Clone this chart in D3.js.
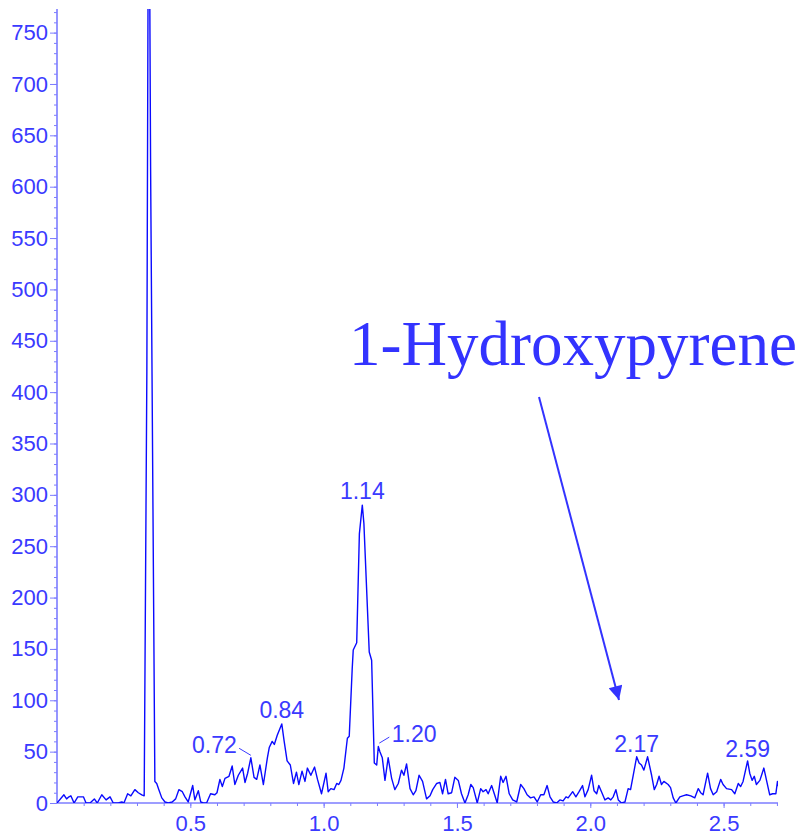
<!DOCTYPE html>
<html>
<head>
<meta charset="utf-8">
<script src="https://cdn.jsdelivr.net/npm/d3@7"></script>
<style>
  body { margin: 0; background: #fff; }
  svg { display: block; }
  .axis text { font-family: "Liberation Sans", Arial, sans-serif; font-size: 22px; fill: #3a3aff; }
  .axis line, .axis path { stroke: #7c7cff; }
</style>
</head>
<body>
<svg width="807" height="835"></svg>
<script>
var times = [0.000,0.026,0.036,0.045,0.052,0.064,0.078,0.099,0.109,0.124,0.140,0.151,0.168,0.184,0.199,0.211,0.230,0.243,0.251,0.265,
  0.277,0.292,0.305,0.318,0.327,0.337,0.344,0.351,0.367,0.374,0.382,0.393,0.405,0.417,0.432,0.445,0.457,0.470,0.480,0.492,
  0.509,0.517,0.530,0.539,0.549,0.561,0.576,0.592,0.600,0.611,0.620,0.630,0.645,0.657,0.667,0.680,0.696,0.705,0.715,0.727,
  0.739,0.749,0.761,0.774,0.789,0.796,0.807,0.815,0.826,0.843,0.852,0.863,0.875,0.887,0.898,0.907,0.919,0.930,0.939,0.952,
  0.966,0.977,0.992,1.009,1.017,1.027,1.039,1.049,1.057,1.065,1.076,1.089,1.096,1.107,1.111,1.124,1.134,1.145,1.151,1.171,
  1.180,1.190,1.199,1.205,1.211,1.220,1.230,1.242,1.255,1.267,1.280,1.292,1.301,1.311,1.324,1.336,1.346,1.358,1.371,1.386,
  1.399,1.409,1.424,1.436,1.446,1.457,1.467,1.480,1.492,1.505,1.517,1.530,1.542,1.552,1.561,1.576,1.589,1.598,1.609,1.617,
  1.630,1.640,1.651,1.664,1.673,1.684,1.696,1.709,1.724,1.739,1.751,1.763,1.776,1.789,1.801,1.814,1.826,1.838,1.849,1.861,
  1.874,1.886,1.898,1.909,1.917,1.934,1.946,1.958,1.971,1.980,1.992,2.005,2.014,2.024,2.032,2.042,2.055,2.067,2.077,2.086,
  2.096,2.105,2.117,2.130,2.142,2.151,2.161,2.174,2.183,2.192,2.201,2.215,2.230,2.240,2.249,2.258,2.267,2.276,2.292,2.301,
  2.311,2.321,2.336,2.347,2.361,2.377,2.392,2.405,2.414,2.423,2.440,2.451,2.461,2.474,2.489,2.498,2.511,2.530,2.542,2.555,
  2.564,2.573,2.590,2.598,2.607,2.615,2.623,2.636,2.651,2.661,2.673,2.684,2.696,2.702,2.708];

var signal = [0,8,4,6,7,0,6,6,0,0,4,0,8,3,6,0,0,1,0,9,
  7,13,10,8,7,420,1000,620,21,19,13,5,1,0,1,4,13,11,6,1,
  17,3,12,1,0,0,9,8,10,23,16,24,26,36,18,27,34,20,29,44,
  25,23,37,18,44,54,60,57,66,77,60,41,37,19,30,18,31,21,34,27,
  35,23,9,29,11,14,13,19,18,22,34,63,65,130,149,156,262,290,272,147,
  139,39,37,55,50,44,22,44,24,13,19,32,27,38,14,8,12,27,21,4,
  7,13,19,20,9,23,9,10,25,22,9,0,8,18,15,0,14,11,13,9,
  17,9,0,26,20,26,9,3,1,18,14,8,5,6,1,8,8,17,6,1,
  0,3,2,6,5,11,6,11,17,6,13,27,12,9,17,11,3,5,3,6,
  13,3,0,1,14,13,27,45,39,37,32,45,27,13,18,26,18,21,18,15,
  5,0,6,7,8,7,5,14,10,8,29,14,8,11,23,18,14,13,9,19,
  16,21,41,29,22,26,18,22,34,22,8,9,9,21,14];

var yTicks = [0, 50, 100, 150, 200, 250, 300, 350, 400, 450, 500, 550, 600, 650, 700, 750];
var xTicks = [0.5, 1.0, 1.5, 2.0, 2.5];

var peakLabels = ["0.72", "0.84", "1.14", "1.20", "2.17", "2.59"];
var peakTimes = [0.727, 0.843, 1.145, 1.205, 2.174, 2.590];
var peakHeights = [44, 77, 290, 55, 45, 41];

var compound = "1-Hydroxypyrene";

(function() {
  var svg = d3.select('svg');
  var plotLeft = 57, plotRight = 778, plotTop = 9, plotBottom = 803;

  var x = d3.scaleLinear().domain([0, 2.704]).range([plotLeft, plotRight]);
  var y = d3.scaleLinear().domain([0, 773]).range([plotBottom, plotTop]);

  svg.append('clipPath').attr('id', 'plot')
    .append('rect')
      .attr('x', plotLeft).attr('y', plotTop)
      .attr('width', plotRight - plotLeft).attr('height', plotBottom - plotTop);

  // minor ticks
  svg.append('g')
      .attr('class', 'axis')
      .attr('transform', 'translate(' + plotLeft + ',0)')
      .call(d3.axisLeft(y).tickValues(d3.range(0, 771, 10)).tickSize(3).tickFormat(''))
      .call(function(g) { g.select('.domain').remove(); });

  svg.append('g')
      .attr('class', 'axis')
      .attr('transform', 'translate(0,' + plotBottom + ')')
      .call(d3.axisBottom(x).tickValues(d3.range(0.1, 2.71, 0.1)).tickSize(3).tickFormat(''))
      .call(function(g) { g.select('.domain').remove(); });

  // major ticks and labels
  svg.append('g')
      .attr('class', 'axis')
      .attr('transform', 'translate(' + plotLeft + ',0)')
      .call(d3.axisLeft(y).tickValues(yTicks).tickSize(7).tickPadding(2).tickFormat(d3.format('d')))
      .call(function(g) { g.select('.domain').remove(); });

  svg.append('g')
      .attr('class', 'axis')
      .attr('transform', 'translate(0,' + plotBottom + ')')
      .call(d3.axisBottom(x).tickValues(xTicks).tickSize(5).tickPadding(7).tickFormat(d3.format('.1f')))
      .call(function(g) { g.select('.domain').remove(); });

  // axis lines
  svg.append('line')
      .attr('x1', plotLeft).attr('x2', plotLeft).attr('y1', plotTop).attr('y2', plotBottom)
      .attr('stroke', '#7c7cff').attr('stroke-width', 1.6);
  svg.append('line')
      .attr('x1', plotLeft).attr('x2', plotRight).attr('y1', plotBottom).attr('y2', plotBottom)
      .attr('stroke', '#7c7cff').attr('stroke-width', 1.6);

  var line = d3.line()
    .x(function(d, i) { return x(times[i]); })
    .y(function(d) { return y(d); });

  svg.append('path')
      .datum(signal)
      .attr('clip-path', 'url(#plot)')
      .attr('fill', 'none')
      .attr('stroke', '#0a0aff')
      .attr('stroke-width', 1.4)
      .attr('stroke-linejoin', 'round')
      .attr('d', line);

  // peak labels: placement per label (dx, dy, anchor, leader)
  var placement = {
    "0.72": { dx: -14, dy: -4.5, anchor: 'end', leader: [-11.7, -9.5, 0, -2.5] },
    "0.84": { dx: 0, dy: -6, anchor: 'middle' },
    "1.14": { dx: 0, dy: -6, anchor: 'middle' },
    "1.20": { dx: 13.4, dy: -5, anchor: 'start', leader: [1, -3.4, 11, -9.4] },
    "2.17": { dx: 0, dy: -5, anchor: 'middle' },
    "2.59": { dx: 0, dy: -4, anchor: 'middle' }
  };

  peakLabels.forEach(function(lbl, i) {
    var px = x(peakTimes[i]), py = y(peakHeights[i]);
    var p = placement[lbl];
    svg.append('text')
        .attr('x', px + p.dx)
        .attr('y', py + p.dy)
        .attr('text-anchor', p.anchor)
        .attr('font-family', '"Liberation Sans", Arial, sans-serif')
        .attr('font-size', 23)
        .attr('fill', '#3a3aff')
        .text(lbl);
    if (p.leader) {
      svg.append('line')
          .attr('x1', px + p.leader[0]).attr('y1', py + p.leader[1])
          .attr('x2', px + p.leader[2]).attr('y2', py + p.leader[3])
          .attr('stroke', '#3a3aff').attr('stroke-width', 1);
    }
  });

  // compound annotation with arrow
  svg.append('defs').append('marker')
      .attr('id', 'head')
      .attr('viewBox', '0 0 10 10')
      .attr('refX', 10).attr('refY', 5)
      .attr('markerWidth', 17).attr('markerHeight', 14)
      .attr('markerUnits', 'userSpaceOnUse')
      .attr('orient', 'auto')
    .append('path')
      .attr('d', 'M0,0L10,5L0,10Z')
      .attr('fill', '#3333ff');

  svg.append('text')
      .attr('x', 349)
      .attr('y', 365)
      .attr('font-family', '"Liberation Serif", "Times New Roman", serif')
      .attr('font-size', 63)
      .attr('fill', '#3333ff')
      .text(compound);

  svg.append('line')
      .attr('x1', 539).attr('y1', 397)
      .attr('x2', 619).attr('y2', 700)
      .attr('stroke', '#3333ff')
      .attr('stroke-width', 2)
      .attr('marker-end', 'url(#head)');
})();
</script>
</body>
</html>
